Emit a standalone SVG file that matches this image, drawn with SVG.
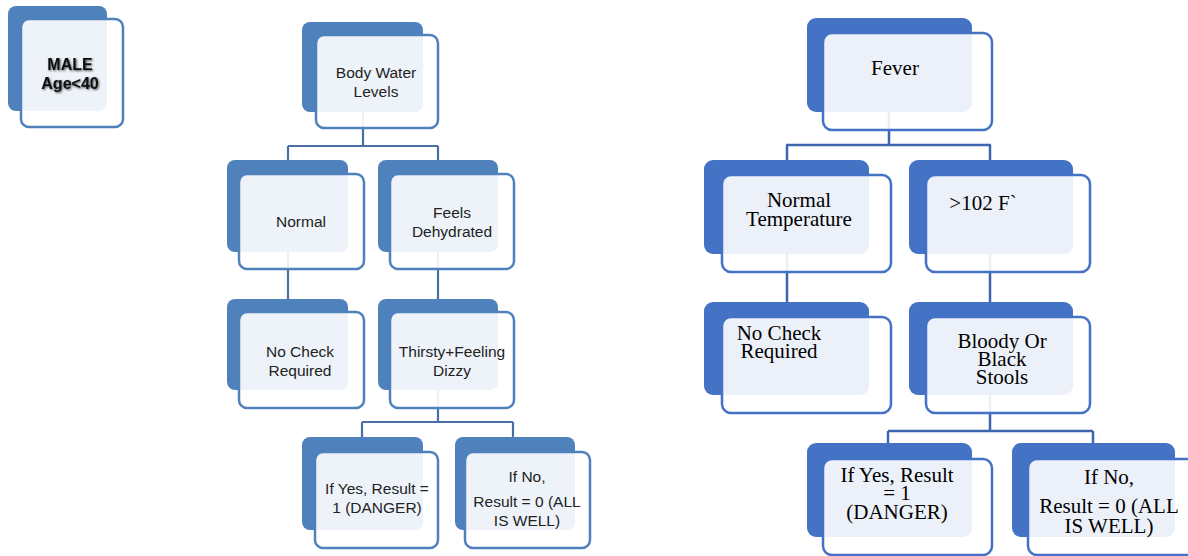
<svg xmlns="http://www.w3.org/2000/svg" width="1188" height="556" viewBox="0 0 1188 556">
<style>
.bkL{fill:#4F81BD;}
.frL{fill:#FFFFFF;fill-opacity:0.9;stroke:#4F81BD;stroke-width:2.5;}
.bkR{fill:#4472C4;}
.frR{fill:#FFFFFF;fill-opacity:0.9;stroke:#4472C4;stroke-width:2.5;}
.cL{fill:none;stroke:#4A6FA5;stroke-width:2.2;}
.cR{fill:none;stroke:#3E66AE;stroke-width:2.5;}
.tL{font-family:"Liberation Sans",Arial,sans-serif;font-size:15.5px;fill:#222;text-anchor:middle;}
.tM{font-family:"Liberation Sans",Arial,sans-serif;font-size:16px;font-weight:bold;fill:#111;text-anchor:middle;}
.tR{font-family:"Liberation Serif","Times New Roman",serif;font-size:21px;fill:#000;text-anchor:middle;}
</style>
<defs>
<filter id="sh" x="-20%" y="-40%" width="140%" height="180%">
<feGaussianBlur in="SourceAlpha" stdDeviation="1.2" result="b"/>
<feOffset in="b" dx="0.5" dy="0.8" result="o"/>
<feFlood flood-color="#000" flood-opacity="0.7"/>
<feComposite in2="o" operator="in" result="s"/>
<feMerge><feMergeNode in="s"/><feMergeNode in="SourceGraphic"/></feMerge>
</filter>
</defs>
<rect width="1188" height="556" fill="#FFFFFF"/>

<g id="connectors">
<path class="cL" d="M363 112 V146 M288 146 H438 M288 146 V160 M438 146 V160"/>
<path class="cL" d="M288 252 V299 M438 252 V299"/>
<path class="cL" d="M438 390 V422 M362 422 H513 M362 422 V437 M513 422 V437"/>
<path class="cR" d="M889 112 V145 M786 145 H991 M787 145 V160 M990 145 V160"/>
<path class="cR" d="M787 254 V302 M990 254 V302"/>
<path class="cR" d="M990 395 V431 M888 431 H1093 M888 431 V443 M1093 431 V443"/>
</g>

<g id="male">
<rect class="bkL" x="8" y="6" width="99" height="105" rx="8"/>
<rect class="frL" x="21" y="19" width="102" height="108" rx="8"/>
<g filter="url(#sh)">
<text class="tM" x="70" y="70">MALE</text>
<text class="tM" x="70" y="89">Age&lt;40</text>
</g>
</g>

<g id="body-water">
<rect class="bkL" x="302" y="22" width="121" height="90" rx="8"/>
<rect class="frL" x="316" y="35" width="122" height="93" rx="8"/>
<text class="tL" x="376" y="78">Body Water</text>
<text class="tL" x="376" y="97">Levels</text>
</g>

<g id="normal">
<rect class="bkL" x="227" y="160" width="121" height="92" rx="8"/>
<rect class="frL" x="239" y="174" width="125" height="95" rx="8"/>
<text class="tL" x="301" y="227">Normal</text>
</g>

<g id="feels-dehydrated">
<rect class="bkL" x="378" y="160" width="120" height="92" rx="8"/>
<rect class="frL" x="390" y="174" width="124" height="95" rx="8"/>
<text class="tL" x="452" y="218">Feels</text>
<text class="tL" x="452" y="237">Dehydrated</text>
</g>

<g id="no-check-left">
<rect class="bkL" x="227" y="299" width="121" height="91" rx="8"/>
<rect class="frL" x="239" y="312" width="125" height="96" rx="8"/>
<text class="tL" x="300" y="357">No Check</text>
<text class="tL" x="300" y="376">Required</text>
</g>

<g id="thirsty">
<rect class="bkL" x="378" y="299" width="120" height="91" rx="8"/>
<rect class="frL" x="390" y="312" width="124" height="96" rx="8"/>
<text class="tL" x="452" y="357">Thirsty+Feeling</text>
<text class="tL" x="452" y="376">Dizzy</text>
</g>

<g id="if-yes-left">
<rect class="bkL" x="302" y="437" width="121" height="93" rx="8"/>
<rect class="frL" x="315" y="452" width="123" height="96" rx="8"/>
<text class="tL" x="377" y="494">If Yes, Result =</text>
<text class="tL" x="377" y="513">1 (DANGER)</text>
</g>

<g id="if-no-left">
<rect class="bkL" x="455" y="437" width="120" height="93" rx="8"/>
<rect class="frL" x="465" y="452" width="125" height="96" rx="8"/>
<text class="tL" x="527" y="482">If No,</text>
<text class="tL" x="527" y="507">Result = 0 (ALL</text>
<text class="tL" x="527" y="526">IS WELL)</text>
</g>

<g id="fever">
<rect class="bkR" x="807" y="18" width="165" height="94" rx="9"/>
<rect class="frR" x="823" y="33" width="169" height="97" rx="9"/>
<text class="tR" x="895" y="75">Fever</text>
</g>

<g id="normal-temperature">
<rect class="bkR" x="704" y="160" width="165" height="94" rx="9"/>
<rect class="frR" x="722" y="175" width="169" height="97" rx="9"/>
<text class="tR" x="799" y="207">Normal</text>
<text class="tR" x="799" y="226">Temperature</text>
</g>

<g id="over-102">
<rect class="bkR" x="909" y="160" width="164" height="94" rx="9"/>
<rect class="frR" x="926" y="175" width="164" height="97" rx="9"/>
<text class="tR" x="983" y="210">&gt;102 F`</text>
</g>

<g id="no-check-right">
<rect class="bkR" x="704" y="302" width="165" height="93" rx="9"/>
<rect class="frR" x="722" y="317" width="169" height="96" rx="9"/>
<text class="tR" x="779" y="340">No Check</text>
<text class="tR" x="779" y="358">Required</text>
</g>

<g id="bloody-stools">
<rect class="bkR" x="909" y="302" width="164" height="93" rx="9"/>
<rect class="frR" x="926" y="317" width="164" height="96" rx="9"/>
<text class="tR" x="1002" y="348">Bloody Or</text>
<text class="tR" x="1002" y="366">Black</text>
<text class="tR" x="1002" y="384">Stools</text>
</g>

<g id="if-yes-right">
<rect class="bkR" x="807" y="443" width="165" height="94" rx="9"/>
<rect class="frR" x="823" y="459" width="169" height="96" rx="9"/>
<text class="tR" x="897" y="482">If Yes, Result</text>
<text class="tR" x="897" y="500">= 1</text>
<text class="tR" x="897" y="519">(DANGER)</text>
</g>

<g id="if-no-right">
<rect class="bkR" x="1012" y="443" width="163" height="94" rx="9"/>
<rect class="frR" x="1028" y="459" width="168" height="96" rx="9"/>
<text class="tR" x="1109" y="484">If No,</text>
<text class="tR" x="1109" y="513">Result = 0 (ALL</text>
<text class="tR" x="1109" y="533">IS WELL)</text>
</g>
</svg>
